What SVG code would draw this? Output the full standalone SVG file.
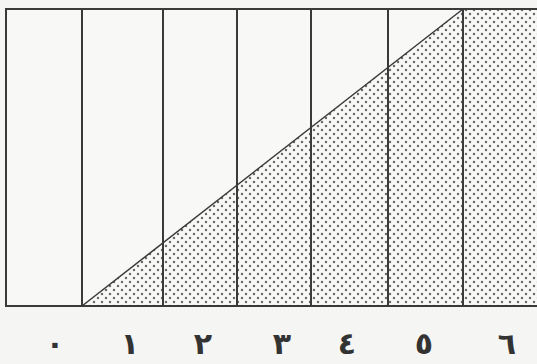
<svg xmlns="http://www.w3.org/2000/svg" width="537" height="364" viewBox="0 0 537 364">
<defs>
<pattern id="dots" width="8" height="8" patternUnits="userSpaceOnUse">
<circle cx="2" cy="2" r="1.25" fill="#6a6a6a"/>
<circle cx="6" cy="6" r="1.25" fill="#6a6a6a"/>
</pattern>
</defs>
<style>
.ln{stroke:#3a3a3a;stroke-width:2;fill:none}
.lb{font-family:"DejaVu Sans",sans-serif;font-weight:bold;font-size:30px;fill:#333;text-anchor:middle}
</style>
<rect width="537" height="364" fill="#f5f5f3"/>
<rect x="6" y="9" width="531" height="297" fill="#f8f8f6"/>
<polygon points="82,306 463,9 537,9 537,306" fill="url(#dots)"/>
<g id="grid" class="ln">
<rect x="6" y="9" width="540" height="297"/>
<line x1="82" y1="9" x2="82" y2="306"/>
<line x1="163" y1="9" x2="163" y2="306"/>
<line x1="237" y1="9" x2="237" y2="306"/>
<line x1="311" y1="9" x2="311" y2="306"/>
<line x1="388" y1="9" x2="388" y2="306"/>
<line x1="463" y1="9" x2="463" y2="306"/>
<line x1="82" y1="306" x2="463" y2="9" stroke-width="1.5"/>
</g>
<g id="labels" class="lb">
<text x="55" y="354">٠</text>
<text x="130" y="354">١</text>
<text x="203" y="354">٢</text>
<text x="282" y="354">٣</text>
<text x="347" y="354">٤</text>
<text x="424" y="354">٥</text>
<text x="507" y="354">٦</text>
</g>
</svg>
